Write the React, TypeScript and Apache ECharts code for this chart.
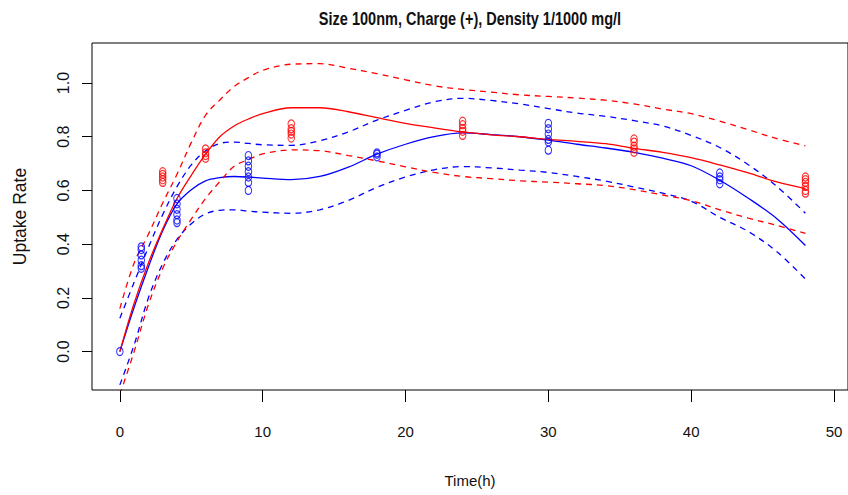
import React, { useEffect, useRef } from "react";
import * as echarts from "echarts";

// ---- data ----
const titleText = "Size 100nm, Charge (+), Density 1/1000 mg/l";
const xTicks = [0, 10, 20, 30, 40, 50];
const yTicks = [0, 0.2, 0.4, 0.6, 0.8, 1.0];

const timeGrid = [0, 1, 2, 3, 4, 5, 6, 7, 8, 9, 10, 12, 14, 16, 18, 20, 22, 24, 26, 28, 30, 32, 34, 36, 38, 40, 42, 44, 46, 48];

const redFit = [0.0, 0.18, 0.33, 0.456, 0.57, 0.656, 0.735, 0.80, 0.84, 0.866, 0.886, 0.908, 0.908, 0.893, 0.871, 0.85, 0.833, 0.818, 0.807, 0.80, 0.79, 0.783, 0.774, 0.757, 0.742, 0.722, 0.695, 0.665, 0.632, 0.607];
const redUpper = [0.16, 0.33, 0.437, 0.553, 0.66, 0.778, 0.88, 0.937, 0.987, 1.02, 1.047, 1.07, 1.072, 1.055, 1.035, 1.012, 0.99, 0.976, 0.966, 0.956, 0.95, 0.944, 0.936, 0.922, 0.903, 0.886, 0.858, 0.826, 0.793, 0.766];
const redLower = [-0.16, 0.0, 0.175, 0.31, 0.41, 0.493, 0.57, 0.633, 0.69, 0.715, 0.736, 0.751, 0.748, 0.73, 0.71, 0.688, 0.667, 0.652, 0.644, 0.636, 0.631, 0.625, 0.618, 0.603, 0.583, 0.562, 0.528, 0.497, 0.47, 0.44];

const blueFit = [0.0, 0.165, 0.315, 0.45, 0.55, 0.603, 0.636, 0.648, 0.652, 0.65, 0.646, 0.64, 0.652, 0.687, 0.735, 0.772, 0.80, 0.814, 0.808, 0.80, 0.787, 0.772, 0.758, 0.742, 0.72, 0.692, 0.638, 0.571, 0.495, 0.395];
const blueUpper = [0.124, 0.258, 0.388, 0.51, 0.614, 0.695, 0.748, 0.775, 0.78, 0.775, 0.77, 0.768, 0.785, 0.818, 0.862, 0.898, 0.93, 0.943, 0.935, 0.922, 0.905, 0.888, 0.876, 0.86, 0.84, 0.805, 0.76, 0.696, 0.615, 0.515];
const blueLower = [-0.124, 0.025, 0.2, 0.327, 0.418, 0.476, 0.513, 0.526, 0.528, 0.523, 0.519, 0.515, 0.528, 0.563, 0.612, 0.65, 0.677, 0.689, 0.684, 0.676, 0.667, 0.652, 0.635, 0.613, 0.59, 0.56, 0.5, 0.447, 0.372, 0.27];

const blueTimes = [0, 1.5, 4, 9, 18, 30, 42];
const blueObs = [
  [0.0],
  [0.31, 0.32, 0.34, 0.36, 0.38, 0.39],
  [0.48, 0.49, 0.51, 0.53, 0.55, 0.57],
  [0.60, 0.63, 0.65, 0.67, 0.69, 0.71, 0.73],
  [0.725, 0.735, 0.74],
  [0.75, 0.78, 0.79, 0.81, 0.83, 0.85],
  [0.625, 0.64, 0.65, 0.665],
];
const redTimes = [3, 6, 12, 24, 36, 48];
const redObs = [
  [0.63, 0.64, 0.65, 0.66, 0.67],
  [0.72, 0.73, 0.74, 0.755],
  [0.795, 0.81, 0.82, 0.83, 0.848],
  [0.805, 0.82, 0.83, 0.845, 0.858],
  [0.742, 0.755, 0.765, 0.78, 0.792],
  [0.59, 0.60, 0.615, 0.63, 0.64, 0.65],
];

const RED = "#ff0000";
const BLUE = "#0000ff";
const FONT = "'Liberation Sans', Arial, sans-serif";

function pairs(ys: number[]) {
  return timeGrid.map((t, i) => [t, ys[i]]);
}
function obsPairs(times: number[], obs: number[][]) {
  const out: number[][] = [];
  times.forEach((t, i) => obs[i].forEach((v) => out.push([t, v])));
  return out;
}

function lineSeries(name: string, ys: number[], color: string, dashed: boolean) {
  return {
    name,
    type: "line",
    data: pairs(ys),
    smooth: 0.35,
    showSymbol: false,
    symbol: "none",
    clip: true,
    lineStyle: { color, width: 1.3, type: dashed ? [6, 5] : "solid" },
    z: 2,
  };
}

function scatterSeries(name: string, data: number[][], color: string) {
  return {
    name,
    type: "scatter",
    data,
    symbol: "circle",
    symbolSize: [6.5, 8],
    itemStyle: { color: "rgba(0,0,0,0)", borderColor: color, borderWidth: 1.1 },
    z: 3,
  };
}

export default function App() {
  const ref = useRef<HTMLDivElement>(null);
  useEffect(() => {
    if (!ref.current) return;
    const chart = echarts.init(ref.current, undefined, { renderer: "svg" });
    chart.setOption({
      animation: false,
      backgroundColor: "#ffffff",
      graphic: [
        {
          type: "text",
          x: 470,
          y: 18,
          scaleX: 0.83,
          style: {
            text: titleText,
            align: "center",
            verticalAlign: "middle",
            textAlign: "center",
            textVerticalAlign: "middle",
            font: "bold 17.5px " + FONT,
            fill: "#111",
          },
        },
      ],
      grid: {
        left: 92,
        right: -2,
        top: 43,
        bottom: 105,
        show: true,
        borderColor: "#000",
        borderWidth: 1,
        backgroundColor: "transparent",
      },
      xAxis: {
        type: "value",
        min: -1.95,
        max: 50.98,
        name: "Time(h)",
        nameLocation: "middle",
        nameGap: 83,
        nameTextStyle: { fontFamily: FONT, fontSize: 15, color: "#111", verticalAlign: "top" },
        axisLine: { show: false, onZero: false },
        splitLine: { show: false },
        axisTick: { show: true, customValues: xTicks, length: 12, lineStyle: { color: "#000", width: 1 } },
        axisLabel: {
          customValues: xTicks,
          margin: 34,
          fontFamily: FONT,
          fontSize: 15,
          color: "#111",
          verticalAlign: "top",
        },
      },
      yAxis: {
        type: "value",
        min: -0.143,
        max: 1.149,
        name: "Uptake Rate",
        nameLocation: "middle",
        nameGap: 63,
        nameRotate: 90,
        nameTextStyle: { fontFamily: FONT, fontSize: 17.5, color: "#111" },
        axisLine: { show: false, onZero: false },
        splitLine: { show: false },
        axisTick: { show: true, customValues: yTicks, length: 10, lineStyle: { color: "#000", width: 1 } },
        axisLabel: {
          customValues: yTicks,
          rotate: 90,
          margin: 21,
          fontFamily: FONT,
          fontSize: 16,
          color: "#111",
          formatter: (v: number) => v.toFixed(1),
        },
      },
      series: [
        lineSeries("blue fit", blueFit, BLUE, false),
        lineSeries("blue upper", blueUpper, BLUE, true),
        lineSeries("blue lower", blueLower, BLUE, true),
        lineSeries("red fit", redFit, RED, false),
        lineSeries("red upper", redUpper, RED, true),
        lineSeries("red lower", redLower, RED, true),
        scatterSeries("blue obs", obsPairs(blueTimes, blueObs), BLUE),
        scatterSeries("red obs", obsPairs(redTimes, redObs), RED),
      ],
    });
    return () => chart.dispose();
  }, []);
  return (
    <div
      ref={ref}
      style={{ position: "fixed", left: 0, top: 0, width: 848, height: 495, background: "#fff" }}
    />
  );
}
